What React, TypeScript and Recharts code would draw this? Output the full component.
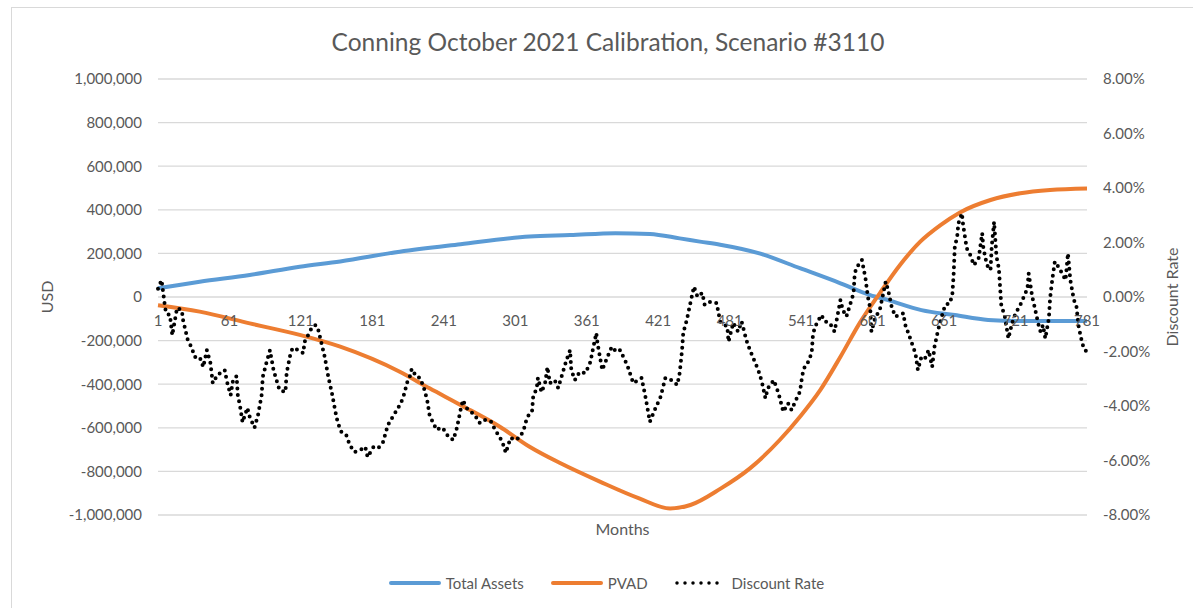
import React from 'react';
import { ComposedChart, Line, XAxis, YAxis, CartesianGrid, Legend } from 'recharts';

// month index -> value
const assetMonths = [1, 36, 78, 120, 154, 204, 255, 313, 347, 385, 414, 439, 456, 473, 506, 540, 574, 599, 614, 642, 670, 698, 726, 781];
const assetValues = [40000, 70000, 101000, 139000, 163000, 208000, 242000, 277000, 284000, 293000, 289000, 269000, 254000, 240000, 200000, 132000, 63000, 9000, -14000, -60000, -83000, -105000, -110000, -110000];

const pvadMonths = [1, 36, 78, 120, 154, 204, 229, 255, 288, 313, 339, 372, 405, 431, 448, 473, 498, 523, 540, 557, 574, 590, 607, 624, 641, 658, 674, 700, 725, 750, 781];
const pvadValues = [-38000, -67000, -121000, -174000, -228000, -343000, -419000, -495000, -595000, -687000, -763000, -847000, -924000, -970000, -954000, -880000, -786000, -656000, -549000, -427000, -274000, -121000, 17000, 147000, 254000, 330000, 387000, 445000, 476000, 491000, 498000];

const rateMonths = [
  1, 4, 7, 8, 11, 13, 17, 21, 22, 26, 29, 32, 36, 39, 42, 45, 47, 51, 57, 59, 62, 64, 67, 68, 70, 72, 76, 78, 82, 85,
  88, 89, 92, 95, 98, 101, 103, 108, 109, 112, 114, 119, 123, 124, 127, 130, 133, 135, 138, 141, 144, 147, 150, 152, 155, 159, 162, 166, 171, 175,
  177, 182, 186, 190, 194, 198, 203, 206, 208, 210, 213, 214, 218, 221, 224, 227, 229, 232, 235, 238, 240, 245, 249, 252, 255, 257, 260, 264, 267, 271,
  274, 278, 281, 284, 288, 291, 293, 297, 301, 305, 308, 311, 315, 316, 319, 320, 323, 326, 328, 330, 334, 337, 341, 344, 347, 348, 351, 355, 360, 364,
  366, 369, 370, 374, 378, 382, 386, 389, 395, 400, 407, 410, 414, 418, 423, 427, 432, 437, 439, 441, 442, 445, 448, 451, 454, 458, 460, 465, 470, 473,
  479, 480, 484, 488, 491, 495, 498, 502, 505, 508, 511, 513, 518, 522, 526, 530, 533, 536, 540, 542, 544, 548, 550, 551, 554, 558, 561, 565, 569, 574,
  576, 579, 582, 585, 586, 588, 592, 595, 597, 599, 600, 603, 607, 612, 614, 617, 620, 623, 627, 628, 631, 634, 637, 639, 642, 645, 648, 651, 653, 656,
  659, 662, 666, 668, 669, 670, 672, 673, 676, 677, 680, 683, 686, 690, 693, 694, 697, 700, 701, 703, 705, 707, 708, 709, 712, 715, 718, 721, 725, 728,
  731, 732, 735, 737, 740, 742, 744, 746, 749, 750, 752, 754, 757, 760, 763, 765, 767, 770, 772, 774, 777, 779, 781,
];
const rateValues = [
  0.3, 0.62, -0.4, -0.6, -0.66, -1.4, -0.4, -0.48, -0.84, -1.58, -1.83, -2.2, -2.2, -2.57, -1.95, -2.42, -3.16, -2.86, -2.68, -3.12, -3.6, -3.05, -2.9, -3.6, -4.04, -4.6, -4.07, -4.4, -4.8, -4.33,
  -3.6, -2.93, -2.42, -1.95, -2.68, -3.12, -3.41, -3.49, -2.79, -2.13, -1.87, -1.95, -2.06, -1.65, -1.4, -1.14, -1.03, -1.1, -1.65, -2.2, -2.93, -3.52, -4.22, -4.62, -4.95, -5.06, -5.43, -5.69, -5.61, -5.5,
  -5.87, -5.5, -5.54, -5.32, -4.7, -4.4, -4.04, -3.78, -3.52, -3.16, -2.86, -2.64, -2.93, -2.97, -3.3, -3.78, -4.33, -4.62, -4.88, -4.8, -4.8, -5.14, -5.25, -4.8, -4.15, -3.78, -4.07, -4.22, -4.33, -4.62,
  -4.51, -4.51, -4.59, -4.88, -5.14, -5.43, -5.72, -5.17, -5.25, -5.14, -4.88, -4.4, -4.22, -3.67, -3.34, -2.97, -3.49, -3.16, -2.57, -3.16, -3.05, -3.34, -2.75, -2.31, -1.95, -2.68, -3.05, -2.75, -2.79, -2.39,
  -1.95, -1.32, -1.69, -2.68, -2.24, -1.83, -2.02, -1.95, -2.5, -3.16, -2.97, -3.6, -4.58, -4.15, -3.66, -2.97, -3.05, -3.23, -2.79, -1.95, -1.32, -0.84, -0.22, 0.38, 0.01, 0.15, -0.29, -0.17, -0.22, -0.9,
  -1.09, -1.64, -0.95, -1.27, -0.9, -1.58, -1.95, -2.37, -2.68, -3.11, -3.72, -3.35, -3.05, -3.53, -4.21, -3.9, -4.15, -3.84, -3.47, -2.86, -2.56, -2.31, -1.95, -1.33, -0.97, -0.66, -0.9, -0.95, -1.27, -0.11,
  -0.48, -0.72, -0.29, 0.14, 0.88, 1.11, 1.36, 0.69, 0.01, -0.41, -1.27, -0.78, -0.48, 0.56, 0.26, -0.36, -0.72, -0.66, -0.6, -0.97, -1.33, -1.7, -2.07, -2.68, -2.19, -2.25, -1.95, -2.56, -1.82, -1.21,
  -0.72, -0.29, -0.23, 0.14, 0.81, 1.85, 2.21, 2.7, 3.07, 2.64, 1.79, 1.54, 1.17, 1.42, 2.34, 1.79, 1.17, 0.99, 1.85, 2.76, 1.48, 1.05, 0.38, -0.29, -0.72, -1.52, -0.97, -0.6, -0.29, 0.01,
  0.32, 0.87, 0.01, -0.36, -0.97, -1.27, -1.03, -1.52, -0.78, -0.05, 0.69, 1.3, 1.11, 0.87, 0.62, 1.6, 0.62, -0.11, -0.29, -1.09, -1.7, -1.95, -2.0,
];

const monthTicks = [1, 61, 121, 181, 241, 301, 361, 421, 481, 541, 601, 661, 721, 781];
const usdTicks = [-1000000, -800000, -600000, -400000, -200000, 0, 200000, 400000, 600000, 800000, 1000000];
const rateTicks = [-8, -6, -4, -2, 0, 2, 4, 6, 8];

const assetData = assetMonths.map((month, i) => ({ month, assets: assetValues[i] }));
const pvadData = pvadMonths.map((month, i) => ({ month, pvad: pvadValues[i] }));
const rateData = rateMonths.map((month, i) => ({ month, rate: rateValues[i] }));

const FONT = 'Lato, "Open Sans", sans-serif';
const GREY = '#595959';
const PLOT_H = 436;

function MonthTick({ x, y, payload }: any) {
  // Excel draws the category labels where the axis crosses zero
  return (
    <text x={x} y={y - PLOT_H / 2 + 18} dy="0.71em" textAnchor="middle" fill={GREY} fontSize={15} fontFamily={FONT}>
      {payload.value}
    </text>
  );
}

const legendItems = [
  { name: 'Total Assets', color: '#5b9bd5', dotted: false },
  { name: 'PVAD', color: '#ed7d31', dotted: false },
  { name: 'Discount Rate', color: '#000000', dotted: true },
];

function renderLegend() {
  return (
    <div style={{ height: 46, display: 'flex', justifyContent: 'center', alignItems: 'center', gap: 26, fontFamily: FONT, fontSize: 15, color: GREY, paddingLeft: 8 }}>
      {legendItems.map((it) => (
        <div key={it.name} style={{ display: 'flex', alignItems: 'center' }}>
          <svg width={54} height={8} style={{ marginRight: 4 }}>
            <line x1={3} y1={4} x2={51} y2={4} stroke={it.color} strokeWidth={it.dotted ? 3.5 : 4}
              strokeLinecap="round" strokeDasharray={it.dotted ? '0 8' : undefined} />
          </svg>
          <span>{it.name}</span>
        </div>
      ))}
    </div>
  );
}

export default function App() {
  return (
    <div style={{ position: 'absolute', left: 0, top: 0, width: 1193, height: 608, overflow: 'hidden', background: '#fff', fontFamily: FONT }}>
      <div style={{ position: 'absolute', left: 11, top: 7, width: 1200, height: 620, border: '1px solid #d9d9d9' }} />
      <div style={{ position: 'absolute', left: 11, top: 27, width: 1194, textAlign: 'center', fontSize: 24.5, color: GREY }}>
        Conning October 2021 Calibration, Scenario #3110
      </div>
      <div style={{ position: 'absolute', left: 0, top: 0 }}>
        <ComposedChart width={1193} height={608} margin={{ top: 79, right: 0, bottom: 8, left: 11 }}>
          <CartesianGrid yAxisId="usd" vertical={false} stroke="#d9d9d9" strokeWidth={1.3} />
          <XAxis dataKey="month" type="number" domain={[1, 781]} ticks={monthTicks} interval={0}
            height={45} axisLine={false} tickLine={false} tickSize={0} tickMargin={0} tick={<MonthTick />}
            label={{ value: 'Months', position: 'insideTop', offset: 9, fill: GREY, fontSize: 16, fontFamily: FONT }} />
          <YAxis yAxisId="usd" domain={[-1000000, 1000000]} ticks={usdTicks} width={147}
            axisLine={false} tickLine={false} tickSize={0} tickMargin={16}
            tick={{ fill: GREY, fontSize: 15, fontFamily: FONT }}
            tickFormatter={(v: number) => v.toLocaleString('en-US')}
            label={{ value: 'USD', angle: -90, position: 'insideLeft', offset: 36, fill: GREY, fontSize: 16, fontFamily: FONT, style: { textAnchor: 'middle' } }} />
          <YAxis yAxisId="rate" orientation="right" domain={[-8, 8]} ticks={rateTicks} width={106}
            axisLine={false} tickLine={false} tickSize={0} tickMargin={16}
            tick={{ fill: GREY, fontSize: 15, fontFamily: FONT }}
            tickFormatter={(v: number) => `${v.toFixed(2)}%`}
            label={{ value: 'Discount Rate', angle: -90, position: 'insideRight', offset: 21, fill: GREY, fontSize: 16, fontFamily: FONT, style: { textAnchor: 'middle' } }} />
          <Legend verticalAlign="bottom" height={40} content={renderLegend} />
          <Line yAxisId="usd" data={assetData} dataKey="assets" name="Total Assets" type="monotone"
            stroke="#5b9bd5" strokeWidth={4} dot={false} isAnimationActive={false} />
          <Line yAxisId="usd" data={pvadData} dataKey="pvad" name="PVAD" type="monotone"
            stroke="#ed7d31" strokeWidth={4} dot={false} isAnimationActive={false} />
          <Line yAxisId="rate" data={rateData} dataKey="rate" name="Discount Rate" type="linear"
            stroke="#000000" strokeWidth={4} strokeLinecap="round" strokeDasharray="0 6.5" dot={false} isAnimationActive={false} />
        </ComposedChart>
      </div>
    </div>
  );
}
